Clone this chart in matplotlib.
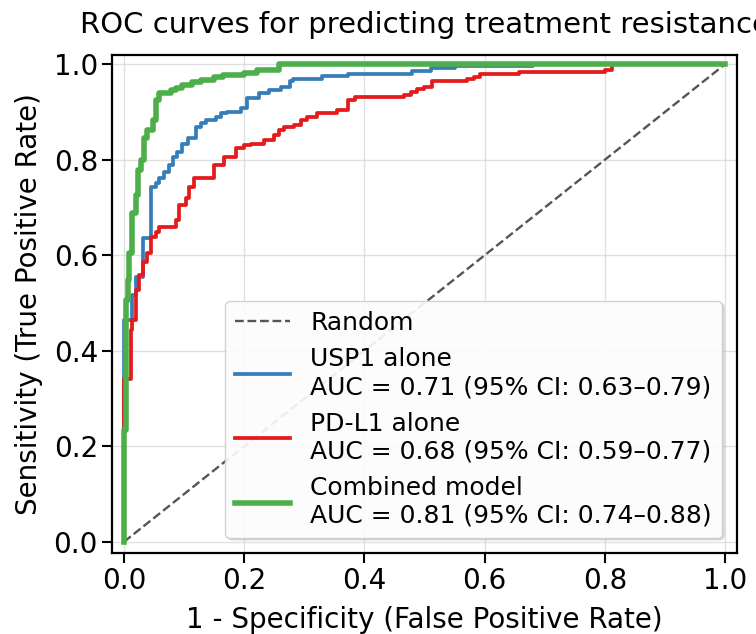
import numpy as np
import matplotlib
matplotlib.use("Agg")
import matplotlib.pyplot as plt

# ROC vertices (fpr, tpr)
usp1_fpr = [0.0, 0.0, 0.014, 0.014, 0.020, 0.020, 0.031, 0.031, 0.045, 0.045,
            0.053, 0.053, 0.059, 0.059, 0.067, 0.067, 0.075, 0.075, 0.081, 0.081,
            0.089, 0.089, 0.097, 0.097, 0.106, 0.106, 0.120, 0.120, 0.128, 0.128,
            0.136, 0.136, 0.153, 0.153, 0.161, 0.161, 0.172, 0.172, 0.194, 0.194,
            0.205, 0.205, 0.224, 0.224, 0.241, 0.241, 0.261, 0.261, 0.277, 0.277,
            0.282, 0.282, 0.330, 0.330, 0.372, 0.372, 0.480, 0.480, 0.510, 0.510,
            0.551, 0.551, 0.681, 0.681, 1.0]
usp1_tpr = [0.0, 0.464, 0.464, 0.517, 0.517, 0.555, 0.555, 0.636, 0.636, 0.743,
            0.743, 0.751, 0.751, 0.761, 0.761, 0.775, 0.775, 0.789, 0.789, 0.806,
            0.806, 0.817, 0.817, 0.834, 0.834, 0.845, 0.845, 0.869, 0.869, 0.876,
            0.876, 0.883, 0.883, 0.890, 0.890, 0.897, 0.897, 0.900, 0.900, 0.908,
            0.908, 0.929, 0.929, 0.939, 0.939, 0.946, 0.946, 0.953, 0.953, 0.964,
            0.964, 0.970, 0.970, 0.975, 0.975, 0.980, 0.980, 0.986, 0.986, 0.992,
            0.992, 0.996, 0.996, 1.0, 1.0]

pdl1_fpr = [0.0, 0.0, 0.012, 0.012, 0.014, 0.014, 0.020, 0.020, 0.025, 0.025,
            0.031, 0.031, 0.039, 0.039, 0.045, 0.045, 0.053, 0.053, 0.059, 0.059,
            0.086, 0.086, 0.092, 0.092, 0.103, 0.103, 0.108, 0.108, 0.117, 0.117,
            0.150, 0.150, 0.167, 0.167, 0.186, 0.186, 0.200, 0.200, 0.211, 0.211,
            0.233, 0.233, 0.250, 0.250, 0.258, 0.258, 0.266, 0.266, 0.283, 0.283,
            0.294, 0.294, 0.305, 0.305, 0.322, 0.322, 0.355, 0.355, 0.372, 0.372,
            0.385, 0.385, 0.466, 0.466, 0.477, 0.477, 0.488, 0.488, 0.499, 0.499,
            0.513, 0.513, 0.571, 0.571, 0.582, 0.582, 0.593, 0.593, 0.657, 0.657,
            0.800, 0.800, 0.812, 0.812, 1.0]
pdl1_tpr = [0.0, 0.342, 0.342, 0.444, 0.444, 0.464, 0.464, 0.527, 0.527, 0.559,
            0.559, 0.585, 0.585, 0.604, 0.604, 0.639, 0.639, 0.649, 0.649, 0.660,
            0.660, 0.674, 0.674, 0.705, 0.705, 0.719, 0.719, 0.743, 0.743, 0.761,
            0.761, 0.789, 0.789, 0.806, 0.806, 0.824, 0.824, 0.830, 0.830, 0.834,
            0.834, 0.841, 0.841, 0.851, 0.851, 0.862, 0.862, 0.869, 0.869, 0.872,
            0.872, 0.883, 0.883, 0.890, 0.890, 0.897, 0.897, 0.904, 0.904, 0.925,
            0.925, 0.932, 0.932, 0.935, 0.935, 0.941, 0.941, 0.949, 0.949, 0.953,
            0.953, 0.964, 0.964, 0.969, 0.969, 0.973, 0.973, 0.980, 0.980, 0.983,
            0.983, 0.987, 0.987, 1.0, 1.0]

comb_fpr = [0.0, 0.0, 0.003, 0.003, 0.006, 0.006, 0.009, 0.009, 0.014, 0.014,
            0.020, 0.020, 0.024, 0.024, 0.029, 0.029, 0.034, 0.034, 0.039, 0.039,
            0.048, 0.048, 0.053, 0.053, 0.059, 0.059, 0.078, 0.078, 0.086, 0.086,
            0.097, 0.097, 0.114, 0.114, 0.128, 0.128, 0.150, 0.150, 0.164, 0.164,
            0.200, 0.200, 0.222, 0.222, 0.258, 0.258, 1.0]
comb_tpr = [0.0, 0.234, 0.234, 0.506, 0.506, 0.548, 0.548, 0.605, 0.605, 0.688,
            0.688, 0.726, 0.726, 0.778, 0.778, 0.799, 0.799, 0.845, 0.845, 0.862,
            0.862, 0.883, 0.883, 0.925, 0.925, 0.939, 0.939, 0.946, 0.946, 0.950,
            0.950, 0.956, 0.956, 0.962, 0.962, 0.967, 0.967, 0.973, 0.973, 0.977,
            0.977, 0.981, 0.981, 0.987, 0.987, 1.0, 1.0]

labels = ["Random",
          "USP1 alone\nAUC = 0.71 (95% CI: 0.63\u20130.79)",
          "PD-L1 alone\nAUC = 0.68 (95% CI: 0.59\u20130.77)",
          "Combined model\nAUC = 0.81 (95% CI: 0.74\u20130.88)"]

plt.rcParams['font.family'] = 'DejaVu Sans'

fig = plt.figure(figsize=(7.56, 6.34), dpi=100)
ax = fig.add_axes([0.148, 0.128, 0.827, 0.785])

ax.plot([0, 1], [0, 1], linestyle='--', color='#555555', lw=1.7, label=labels[0])
ax.plot(usp1_fpr, usp1_tpr, color='#377eb8', lw=2.7, label=labels[1])
ax.plot(pdl1_fpr, pdl1_tpr, color='#e41a1c', lw=2.7, label=labels[2])
ax.plot(comb_fpr, comb_tpr, color='#4daf4a', lw=4, label=labels[3])

ax.set_xlim(-0.02, 1.02)
ax.set_ylim(-0.023, 1.019)
ax.set_xticks(np.arange(0, 1.01, 0.2))
ax.set_yticks(np.arange(0, 1.01, 0.2))
ax.tick_params(labelsize=20, length=7, width=1.5, pad=3)
ax.grid(True, color='#cccccc', alpha=0.6, lw=1)
for s in ax.spines.values():
    s.set_linewidth(1.6)

ax.set_xlabel('1 - Specificity (False Positive Rate)', fontsize=20, labelpad=8)
ax.set_ylabel('Sensitivity (True Positive Rate)', fontsize=20, labelpad=8)
ax.set_title('ROC curves for predicting treatment resistance', fontsize=21, pad=16)

leg = ax.legend(loc='lower right', fontsize=18, framealpha=0.9, fancybox=True,
                handlelength=2.2, edgecolor='#cccccc', borderaxespad=0.6,
                shadow={'alpha': 0.15, 'ox': 1.5, 'oy': -1.5})

fig.savefig('out.png', dpi=100)
